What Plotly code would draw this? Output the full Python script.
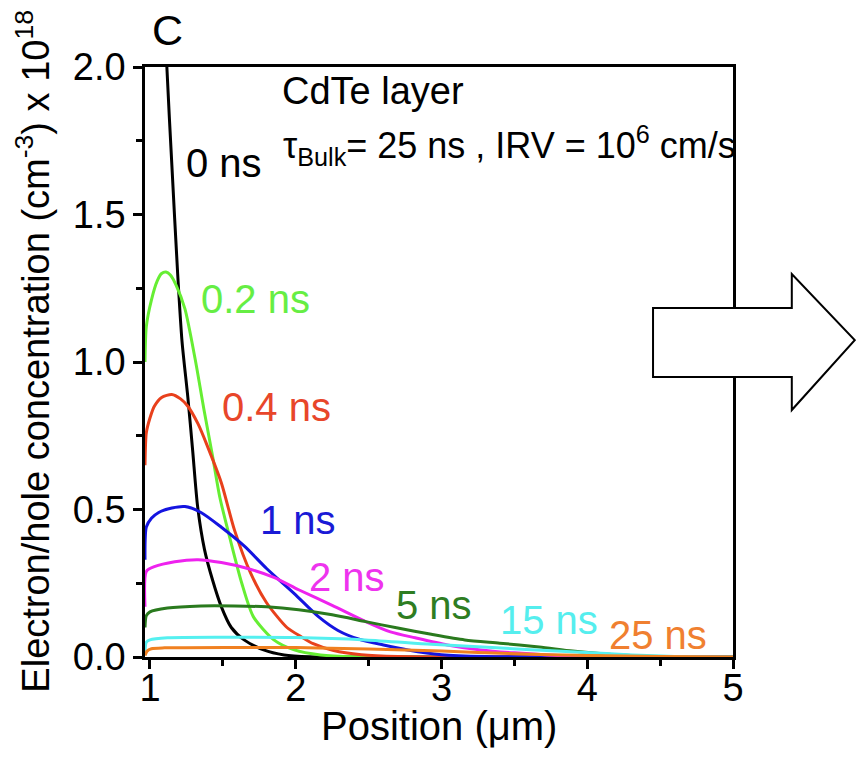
import plotly.graph_objects as go

# ---- data ----
x_0ns = [1.10, 1.116, 1.15, 1.19, 1.22, 1.26, 1.293, 1.327, 1.374, 1.43, 1.49, 1.558, 1.646, 1.78, 1.92, 2.1, 2.5, 5.0]
y_0ns = [2.25, 2.0, 1.67, 1.30, 1.07, 0.88, 0.70, 0.51, 0.365, 0.26, 0.17, 0.10, 0.058, 0.024, 0.007, 0.001, 0.0, 0.0]

x_02ns = [0.966, 0.975, 1.01, 1.05, 1.08, 1.11, 1.14, 1.18, 1.24, 1.31, 1.37, 1.43, 1.48, 1.55, 1.63, 1.71, 1.85, 1.99, 2.17, 2.4, 5.0]
y_02ns = [1.00, 1.12, 1.21, 1.275, 1.300, 1.305, 1.295, 1.26, 1.18, 1.01, 0.84, 0.68, 0.54, 0.40, 0.25, 0.136, 0.058, 0.024, 0.007, 0.001, 0.0]

x_04ns = [0.966, 0.975, 1.0, 1.03, 1.08, 1.15, 1.21, 1.26, 1.33, 1.39, 1.49, 1.58, 1.69, 1.80, 1.94, 2.04, 2.12, 2.26, 2.45, 2.7, 5.0]
y_04ns = [0.65, 0.76, 0.81, 0.85, 0.88, 0.89, 0.875, 0.85, 0.79, 0.72, 0.59, 0.43, 0.285, 0.184, 0.10, 0.068, 0.045, 0.022, 0.008, 0.002, 0.0]

x_1ns = [0.966, 0.975, 1.01, 1.06, 1.15, 1.24, 1.35, 1.49, 1.65, 1.80, 1.99, 2.16, 2.29, 2.43, 2.61, 2.77, 3.0, 3.3, 5.0]
y_1ns = [0.33, 0.44, 0.47, 0.49, 0.505, 0.51, 0.49, 0.44, 0.375, 0.30, 0.215, 0.135, 0.09, 0.061, 0.04, 0.024, 0.008, 0.002, 0.0]

x_2ns = [0.966, 0.975, 1.03, 1.17, 1.33, 1.49, 1.67, 1.85, 2.02, 2.25, 2.48, 2.65, 2.82, 3.04, 3.27, 3.5, 3.8, 4.1, 5.0]
y_2ns = [0.17, 0.29, 0.306, 0.323, 0.33, 0.32, 0.30, 0.27, 0.228, 0.175, 0.12, 0.085, 0.065, 0.041, 0.024, 0.014, 0.005, 0.001, 0.0]

x_5ns = [0.966, 0.975, 1.0, 1.12, 1.35, 1.58, 1.80, 2.02, 2.25, 2.48, 2.70, 2.93, 3.16, 3.40, 3.67, 3.9, 4.13, 4.33, 4.5, 5.0]
y_5ns = [0.10, 0.14, 0.153, 0.166, 0.173, 0.173, 0.17, 0.16, 0.143, 0.12, 0.098, 0.077, 0.058, 0.047, 0.034, 0.02, 0.01, 0.004, 0.0, 0.0]

x_15ns = [0.966, 0.975, 1.0, 1.12, 1.5, 2.0, 2.48, 2.93, 3.38, 3.79, 4.13, 4.31, 4.6, 5.0]
y_15ns = [0.02, 0.05, 0.058, 0.065, 0.067, 0.066, 0.058, 0.043, 0.031, 0.02, 0.012, 0.007, 0.002, 0.0]

x_25ns = [0.966, 0.98, 1.01, 1.1, 2.0, 2.5, 3.0, 3.5, 4.0, 4.5, 5.0]
y_25ns = [0.005, 0.02, 0.028, 0.031, 0.032, 0.027, 0.02, 0.011, 0.005, 0.002, 0.0]

series_names = ["0 ns", "0.2 ns", "0.4 ns", "1 ns", "2 ns", "5 ns", "15 ns", "25 ns"]
series_x = [x_0ns, x_02ns, x_04ns, x_1ns, x_2ns, x_5ns, x_15ns, x_25ns]
series_y = [y_0ns, y_02ns, y_04ns, y_1ns, y_2ns, y_5ns, y_15ns, y_25ns]
series_colors = ["#000000", "#66ee33", "#e8401c", "#1414e0", "#ee22ee", "#2a7a1e", "#55f0f0", "#f08020"]

# label positions (left edge, vertical middle) in data units
label_x = [1.235, 1.337, 1.48, 1.738, 2.078, 2.677, 3.39, 4.133]
label_y = [1.673, 1.214, 0.847, 0.466, 0.272, 0.177, 0.126, 0.075]
label_colors = ["#000000", "#66ee44", "#e8462a", "#1a1ad6", "#ee33ee", "#2e7d22", "#55eeee", "#f08030"]

FONT = "Arial, Liberation Sans, sans-serif"

fig = go.Figure()
for name, xs, ys, c in zip(series_names, series_x, series_y, series_colors):
    fig.add_trace(go.Scatter(x=xs, y=ys, mode="lines", name=name,
                             line=dict(color=c, width=3, shape="spline", smoothing=0.7),
                             showlegend=False))

annotations = []
for name, lx, ly, lc in zip(series_names, label_x, label_y, label_colors):
    annotations.append(dict(x=lx, y=ly, xref="x", yref="y", text=name, showarrow=False,
                            xanchor="left", yanchor="middle",
                            font=dict(size=40, color=lc, family=FONT)))

annotations.append(dict(x=1.89, y=1.92, xref="x", yref="y", text="CdTe layer", showarrow=False,
                        xanchor="left", yanchor="middle", font=dict(size=38, color="black", family=FONT)))
annotations.append(dict(x=1.90, y=1.735, xref="x", yref="y",
                        text="τ<sub>Bulk</sub>= 25 ns , IRV = 10<sup>6</sup> cm/s", showarrow=False,
                        xanchor="left", yanchor="middle", font=dict(size=36, color="black", family=FONT)))
annotations.append(dict(x=0.039, y=1.063, xref="paper", yref="paper", text="C", showarrow=False,
                        xanchor="center", yanchor="middle", font=dict(size=43, color="black", family=FONT)))
annotations.append(dict(x=-0.19, y=0.518, xref="paper", yref="paper",
                        text="Electron/hole concentration (cm<sup>-3</sup>) x 10<sup>18</sup>",
                        textangle=-90, showarrow=False, xanchor="center", yanchor="middle",
                        font=dict(size=38, color="black", family=FONT)))
annotations.append(dict(x=0.5, y=-0.117, xref="paper", yref="paper", text="Position (μm)",
                        showarrow=False, xanchor="center", yanchor="middle",
                        font=dict(size=40, color="black", family=FONT)))

arrow_path = ("M 0.864,0.4746 L 0.864,0.5915 L 1.100,0.5915 L 1.100,0.649 "
              "L 1.207,0.537 L 1.100,0.4186 L 1.100,0.4746 Z")

fig.update_layout(
    width=856, height=761,
    margin=dict(l=145, r=123, t=67, b=104),
    paper_bgcolor="white", plot_bgcolor="white",
    font=dict(family=FONT, color="black"),
    annotations=annotations,
    shapes=[dict(type="path", path=arrow_path, xref="paper", yref="paper",
                 fillcolor="white", line=dict(color="black", width=2), layer="above")],
)
fig.update_xaxes(range=[0.966, 5], tickvals=[1, 2, 3, 4, 5], ticks="outside", ticklen=9, tickwidth=2.5,
                 tickcolor="black", showline=True, linecolor="black", linewidth=2.5, mirror=True,
                 showgrid=False, zeroline=False, tickfont=dict(size=38, color="black", family=FONT),
                 ticklabelstandoff=-13,
                 minor=dict(tickvals=[1.5, 2.5, 3.5, 4.5], ticks="outside", ticklen=6, tickwidth=2.5,
                            tickcolor="black", showgrid=False))
fig.update_yaxes(range=[0, 2.0], tickvals=[0, 0.5, 1.0, 1.5, 2.0], tickformat=".1f", ticks="outside",
                 ticklen=9, tickwidth=2.5, tickcolor="black", showline=True, linecolor="black",
                 linewidth=2.5, mirror=True, showgrid=False, zeroline=False,
                 tickfont=dict(size=38, color="black", family=FONT),
                 minor=dict(tickvals=[0.25, 0.75, 1.25, 1.75], ticks="outside", ticklen=6, tickwidth=2.5,
                            tickcolor="black", showgrid=False))

fig.write_html("out.html")
